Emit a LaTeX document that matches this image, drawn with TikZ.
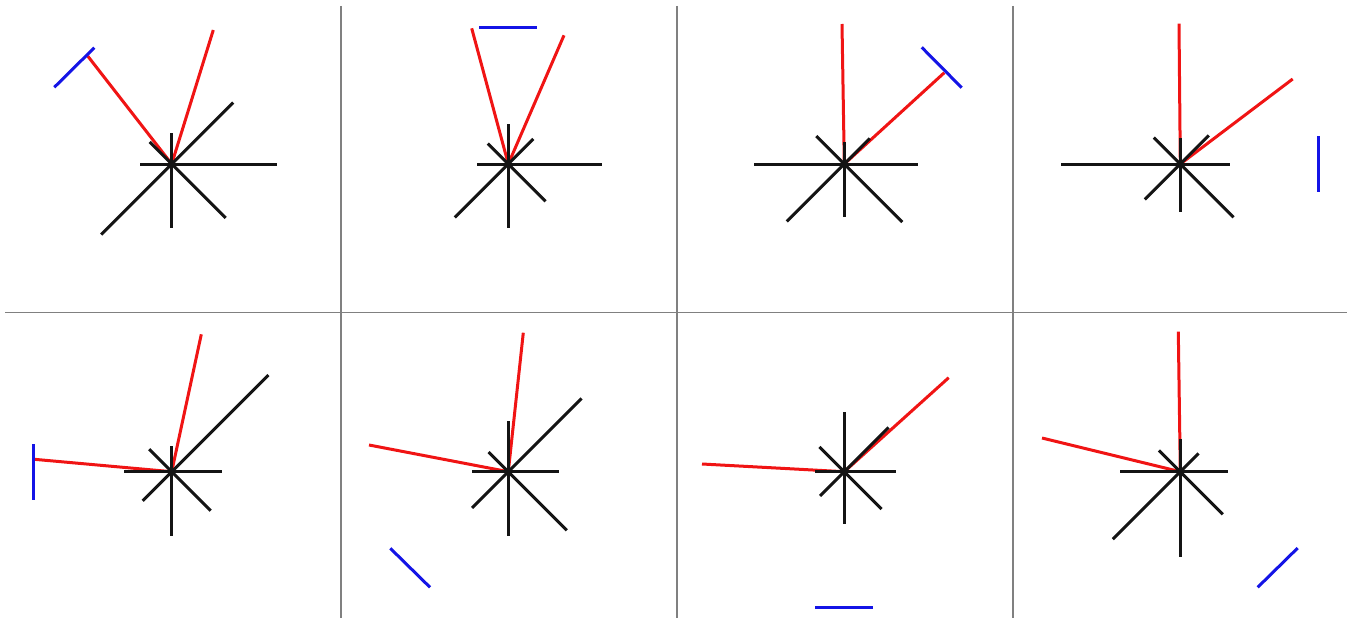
\documentclass[tikz,border=0pt]{standalone}
\usepackage{tikz}
\definecolor{gridgray}{RGB}{128,128,128}
\definecolor{beamred}{RGB}{240,20,20}
\definecolor{mirrorblue}{RGB}{20,20,230}

\begin{document}
\begin{tikzpicture}[
  x=1pt, y=-1pt,
  divider/.style={draw=gridgray, line width=1.6pt},
  ray/.style={draw=black!92, line width=3pt},
  beam/.style={draw=beamred, line width=3pt},
  mirror/.style={draw=mirrorblue, line width=3pt}
]
\useasboundingbox (0,0) rectangle (1350,618);
% panel dividers
\draw[divider] (341,6) coordinate (v1) -- (341,618);
\draw[divider] (677,6) coordinate (v2) -- (677,618);
\draw[divider] (1013,6) coordinate (v3) -- (1013,618);
\draw[divider] (5,312.5) coordinate (h1) -- (1347,312.5);

% panel 1
\coordinate (c1) at (171.7,164);
\coordinate (m1a) at (54.3,87.3);
\coordinate (m1b) at (94.3,47.7);
\draw[beam] (c1) -- (213.3,30);
\draw[beam] (c1) -- (87.7,56);
\draw[mirror] (m1a) -- (m1b);
\foreach \dx/\dy in {105/0,-32/0,0/-31,0/63.7,61.5/-61.5,-22/-22,-70.5/70.5,54/54}
  \draw[ray] (c1) -- ++(\dx,\dy);

% panel 2
\coordinate (c2) at (508.3,164);
\coordinate (m2a) at (479.3,27.7);
\coordinate (m2b) at (536.7,27.7);
\draw[beam] (c2) -- (471.7,28.3);
\draw[beam] (c2) -- (564,35.3);
\draw[mirror] (m2a) -- (m2b);
\foreach \dx/\dy in {93.3/0,-31/0,0/-39.7,0/63.7,25/-25,-20.5/-20.5,-53.5/53.5,37.3/37.3}
  \draw[ray] (c2) -- ++(\dx,\dy);

% panel 3
\coordinate (c3) at (844.3,164);
\coordinate (m3a) at (921.7,47.3);
\coordinate (m3b) at (961.7,87.7);
\draw[beam] (c3) -- (842,24);
\draw[beam] (c3) -- (944.3,72.7);
\draw[mirror] (m3a) -- (m3b);
\foreach \dx/\dy in {74/0,-90.7/0,0/-22.3,0/52.7,25.5/-25.5,-28/-28,-57.5/57.5,58/58}
  \draw[ray] (c3) -- ++(\dx,\dy);

% panel 4
\coordinate (c4) at (1180.3,164);
\coordinate (m4a) at (1318,136.3);
\coordinate (m4b) at (1318,192);
\draw[beam] (c4) -- (1179,23.7);
\draw[beam] (c4) -- (1292.7,79);
\draw[mirror] (m4a) -- (m4b);
\foreach \dx/\dy in {50/0,-119/0,0/-26.3,0/48,28.5/-28.5,-26.5/-26.5,-35.5/35.5,53.3/53.3}
  \draw[ray] (c4) -- ++(\dx,\dy);

% panel 5
\coordinate (c5) at (171.7,471.7);
\coordinate (m5a) at (33.7,444);
\coordinate (m5b) at (33.7,499.7);
\draw[beam] (c5) -- (201.3,334.3);
\draw[beam] (c5) -- (34.3,459.3);
\draw[mirror] (m5a) -- (m5b);
\foreach \dx/\dy in {50.7/0,-47.3/0,0/-25.7,0/64.7,96.7/-96.7,-22.5/-22.5,-29/29,39/39}
  \draw[ray] (c5) -- ++(\dx,\dy);

% panel 6
\coordinate (c6) at (508.3,471.7);
\coordinate (m6a) at (390.3,548.3);
\coordinate (m6b) at (430,587.3);
\draw[beam] (c6) -- (523.3,332.7);
\draw[beam] (c6) -- (369,445);
\draw[mirror] (m6a) -- (m6b);
\foreach \dx/\dy in {50.7/0,-36.3/0,0/-51,0/64,73.3/-73.3,-19.7/-19.7,-36.2/36.2,58.5/58.5}
  \draw[ray] (c6) -- ++(\dx,\dy);

% panel 7
\coordinate (c7) at (844.3,471.7);
\coordinate (m7a) at (815.3,607.7);
\coordinate (m7b) at (872.7,607.7);
\draw[beam] (c7) -- (948.7,377.7);
\draw[beam] (c7) -- (702,464);
\draw[mirror] (m7a) -- (m7b);
\foreach \dx/\dy in {51.7/0,-29/0,0/-59.3,0/52.3,44.2/-44.2,-24.8/-24.8,-24.2/24.2,37.3/37.3}
  \draw[ray] (c7) -- ++(\dx,\dy);

% panel 8
\coordinate (c8) at (1180.3,471.7);
\coordinate (m8a) at (1257.7,587.3);
\coordinate (m8b) at (1297.7,548);
\draw[beam] (c8) -- (1178.3,331.7);
\draw[beam] (c8) -- (1042,438);
\draw[mirror] (m8a) -- (m8b);
\foreach \dx/\dy in {47.7/0,-60/0,0/-32.3,0/85.3,18.3/-18.3,-21.3/-21.3,-67.5/67.5,42.5/42.5}
  \draw[ray] (c8) -- ++(\dx,\dy);
\end{tikzpicture}
\end{document}
